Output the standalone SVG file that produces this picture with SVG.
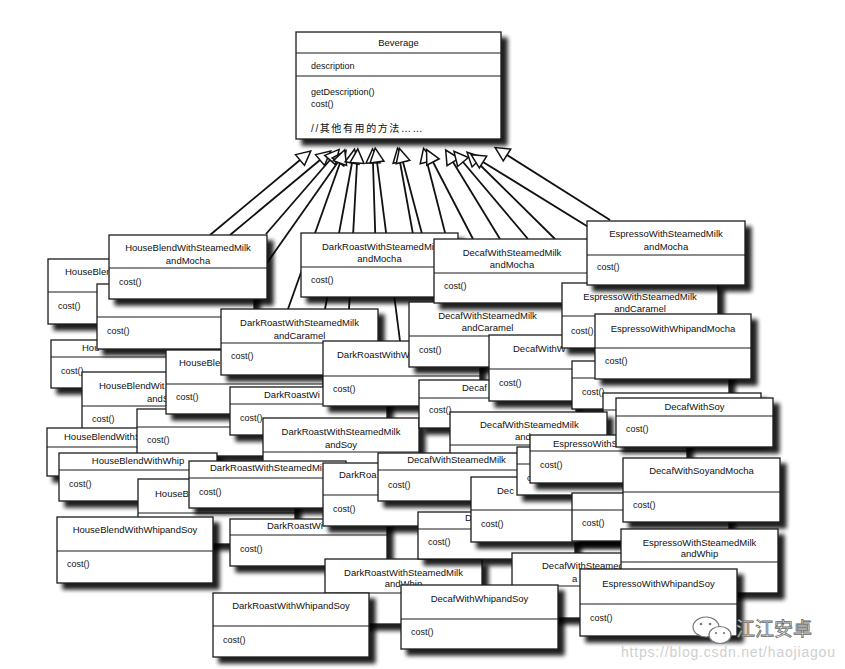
<svg xmlns="http://www.w3.org/2000/svg" width="845" height="669" viewBox="0 0 845 669">
<defs>
<filter id="sh" x="-5%" y="-10%" width="125%" height="140%">
<feGaussianBlur in="SourceAlpha" stdDeviation="2.2"/>
<feOffset dx="6" dy="6" result="o"/>
<feComponentTransfer in="o" result="s"><feFuncA type="linear" slope="0.88"/></feComponentTransfer>
<feMerge><feMergeNode in="s"/><feMergeNode in="SourceGraphic"/></feMerge>
</filter>
<marker id="tri" markerUnits="userSpaceOnUse" markerWidth="18" markerHeight="18" viewBox="-2 -9 18 18" refX="0" refY="0" orient="auto-start-reverse">
<path d="M0,-7 L14,0 L0,7 Z" fill="#fff" stroke="#111" stroke-width="1.5" stroke-linejoin="miter"/>
</marker>
<style>
.b{fill:#fff;stroke:#1a1a1a;stroke-width:1.3;filter:url(#sh)}
.d{stroke:#1a1a1a;stroke-width:1.2}
.t{font-family:"Liberation Sans",Arial,sans-serif;font-size:9.5px;fill:#111;text-anchor:middle}
.ts{font-family:"Liberation Sans",Arial,sans-serif;font-size:9.5px;fill:#111}
.m{font-family:"Liberation Sans",Arial,sans-serif;font-size:9px;fill:#111}
.cn{font-family:"Liberation Sans","Noto Sans CJK SC",sans-serif;font-size:10px;fill:#111;letter-spacing:1.6px}
.c line{stroke:#111;stroke-width:1.8;marker-start:url(#tri)}
</style>
</defs>
<rect width="845" height="669" fill="#fff"/>

<g id="Beverage" transform="translate(296,32)">
<rect class="b" width="205" height="107"/>
<line class="d" x1="0" y1="21" x2="205" y2="21"/>
<line class="d" x1="0" y1="44" x2="205" y2="44"/>
<text class="t" x="102.5" y="13.5">Beverage</text>
<text class="m" x="15" y="37">description</text>
<text class="m" x="15" y="63">getDescription()</text>
<text class="m" x="15" y="75">cost()</text>
<text class="cn" x="15" y="100">//其他有用的方法……</text>
</g>

<g id="connectors" class="c">
<line x1="300" y1="160" x2="210" y2="235"/>
<line x1="320" y1="160" x2="230" y2="235"/>
<line x1="330" y1="160" x2="266" y2="234"/>
<line x1="338" y1="162" x2="262" y2="270"/>
<line x1="340" y1="163" x2="288" y2="309"/>
<line x1="352" y1="163" x2="325" y2="309"/>
<line x1="357" y1="163" x2="349" y2="309"/>
<line x1="373" y1="163" x2="377" y2="290"/>
<line x1="377" y1="162" x2="400" y2="341"/>
<line x1="400" y1="162" x2="423" y2="290"/>
<line x1="403" y1="162" x2="440" y2="302"/>
<line x1="427" y1="162" x2="452" y2="260"/>
<line x1="433" y1="162" x2="473" y2="239"/>
<line x1="453" y1="162" x2="500" y2="239"/>
<line x1="463" y1="162" x2="528" y2="239"/>
<line x1="477" y1="162" x2="555" y2="239"/>
<line x1="483" y1="162" x2="590" y2="228"/>
<line x1="507" y1="155" x2="610" y2="220"/>
</g>

<g id="hb_a" transform="translate(48,259)"><rect class="b" width="157" height="65"/><line class="d" x1="0" y1="33" x2="157" y2="33"/><text class="ts" x="17" y="15.5">HouseBlen</text><text class="m" x="10" y="49.5">cost()</text></g>
<g id="hb_b" transform="translate(51,340)"><rect class="b" width="157" height="48"/><line class="d" x1="0" y1="17" x2="157" y2="17"/><text class="ts" x="31" y="10.5">Hou</text><text class="m" x="10" y="33.5">cost()</text></g>
<g id="hb_c" transform="translate(97,284)"><rect class="b" width="157" height="65"/><line class="d" x1="0" y1="33" x2="157" y2="33"/><text class="m" x="10" y="49.5">cost()</text></g>
<g id="hb_d" transform="translate(82,372)"><rect class="b" width="157" height="65"/><line class="d" x1="0" y1="34" x2="157" y2="34"/><text class="ts" x="17" y="16.5">HouseBlendWit</text><text class="ts" x="65" y="29.5">andS</text><text class="m" x="10" y="49.5">cost()</text></g>
<g id="hb_e" transform="translate(47,428)"><rect class="b" width="157" height="48"/><line class="d" x1="0" y1="19" x2="157" y2="19"/><text class="ts" x="17" y="11.5">HouseBlendWithS</text></g>
<g id="hb_f" transform="translate(137,409)"><rect class="b" width="157" height="47"/><line class="d" x1="0" y1="18" x2="157" y2="18"/><text class="m" x="10" y="33.5">cost()</text></g>
<g id="hb_g" transform="translate(166,350)"><rect class="b" width="157" height="64"/><line class="d" x1="0" y1="34" x2="157" y2="34"/><text class="ts" x="13" y="15.5">HouseBle</text><text class="m" x="10" y="49.5">cost()</text></g>

<g id="HouseBlendWithSteamedMilkandMocha" transform="translate(109,235)"><rect class="b" width="158" height="64"/><line class="d" x1="0" y1="33" x2="158" y2="33"/><text class="t" x="79" y="15.5">HouseBlendWithSteamedMilk</text><text class="t" x="79" y="28.5">andMocha</text><text class="m" x="10" y="49.5">cost()</text></g>
<g id="DarkRoastWithSteamedMilkandMocha" transform="translate(301,233)"><rect class="b" width="157" height="64"/><line class="d" x1="0" y1="34" x2="157" y2="34"/><text class="ts" x="21" y="16.5">DarkRoastWithSteamedMi</text><text class="t" x="78.5" y="28.5">andMocha</text><text class="m" x="10" y="49.5">cost()</text></g>
<g id="DarkRoastWithSteamedMilkandCaramel" transform="translate(221,309)"><rect class="b" width="157" height="66"/><line class="d" x1="0" y1="34" x2="157" y2="34"/><text class="t" x="78.5" y="16.5">DarkRoastWithSteamedMilk</text><text class="t" x="78.5" y="29.5">andCaramel</text><text class="m" x="10" y="49.5">cost()</text></g>
<g id="dr_a" transform="translate(230,387)"><rect class="b" width="157" height="48"/><line class="d" x1="0" y1="17" x2="157" y2="17"/><text class="ts" x="34" y="10.5">DarkRoastWi</text><text class="m" x="10" y="33.5">cost()</text></g>
<g id="dr_b" transform="translate(323,341)"><rect class="b" width="157" height="65"/><line class="d" x1="0" y1="35" x2="157" y2="35"/><text class="ts" x="14" y="16.5">DarkRoastWithW</text><text class="m" x="10" y="50.5">cost()</text></g>
<g id="DarkRoastWithSteamedMilkandSoy" transform="translate(263,418)"><rect class="b" width="156" height="65"/><line class="d" x1="0" y1="34" x2="156" y2="34"/><text class="t" x="78" y="16.5">DarkRoastWithSteamedMilk</text><text class="t" x="78" y="29.5">andSoy</text></g>
<g id="de_a" transform="translate(419,380)"><rect class="b" width="157" height="48"/><line class="d" x1="0" y1="18" x2="157" y2="18"/><text class="ts" x="43" y="10.5">Decaf</text><text class="m" x="10" y="32.5">cost()</text></g>
<g id="DecafWithSteamedMilkandCaramel" transform="translate(409,302)"><rect class="b" width="157" height="65"/><line class="d" x1="0" y1="34" x2="157" y2="34"/><text class="t" x="78.5" y="16.5">DecafWithSteamedMilk</text><text class="t" x="78.5" y="28.5">andCaramel</text><text class="m" x="10" y="50.5">cost()</text></g>
<g id="DecafWithSteamedMilkandMocha" transform="translate(434,239)"><rect class="b" width="156" height="64"/><line class="d" x1="0" y1="34" x2="156" y2="34"/><text class="t" x="78" y="16.5">DecafWithSteamedMilk</text><text class="t" x="78" y="28.5">andMocha</text><text class="m" x="10" y="49.5">cost()</text></g>
<g id="de_b" transform="translate(489,335)"><rect class="b" width="157" height="66"/><line class="d" x1="0" y1="34" x2="157" y2="34"/><text class="ts" x="24" y="16.5">DecafWithW</text><text class="m" x="10" y="50.5">cost()</text></g>
<g id="EspressoWithSteamedMilkandCaramel" transform="translate(562,283)"><rect class="b" width="156" height="65"/><line class="d" x1="0" y1="33" x2="156" y2="33"/><text class="t" x="78" y="16.5">EspressoWithSteamedMilk</text><text class="t" x="78" y="28.5">andCaramel</text><text class="m" x="9" y="50.5">cost()</text></g>
<g id="EspressoWithSteamedMilkandMocha" transform="translate(587,221)"><rect class="b" width="158" height="64"/><line class="d" x1="0" y1="34" x2="158" y2="34"/><text class="t" x="79" y="15.5">EspressoWithSteamedMilk</text><text class="t" x="79" y="28.5">andMocha</text><text class="m" x="10" y="48.5">cost()</text></g>
<g id="es_a" transform="translate(572,361)"><rect class="b" width="157" height="48"/><line class="d" x1="0" y1="17" x2="157" y2="17"/><text class="m" x="10" y="33.5">cost()</text></g>
<g id="EspressoWithWhipandMocha" transform="translate(595,314)"><rect class="b" width="156" height="65"/><line class="d" x1="0" y1="34" x2="156" y2="34"/><text class="t" x="78" y="17.5">EspressoWithWhipandMocha</text><text class="m" x="10" y="49.5">cost()</text></g>
<g id="de_c" transform="translate(603,393)"><rect class="b" width="158" height="48"/><line class="d" x1="0" y1="17" x2="158" y2="17"/></g>
<g id="de_d" transform="translate(450,412)"><rect class="b" width="157" height="65"/><line class="d" x1="0" y1="33" x2="157" y2="33"/><text class="ts" x="30" y="15.5">DecafWithSteamedMilk</text><text class="ts" x="65" y="27.5">and</text></g>

<g id="HouseBlendWithWhip" transform="translate(59,453)"><rect class="b" width="158" height="48"/><line class="d" x1="0" y1="17" x2="158" y2="17"/><text class="t" x="79" y="10.5">HouseBlendWithWhip</text><text class="m" x="10" y="33.5">cost()</text></g>
<g id="hb_h" transform="translate(138,479)"><rect class="b" width="157" height="65"/><line class="d" x1="0" y1="34" x2="157" y2="34"/><text class="ts" x="17" y="17.5">HouseB</text></g>
<g id="dr_c" transform="translate(189,461)"><rect class="b" width="157" height="47"/><line class="d" x1="0" y1="17" x2="157" y2="17"/><text class="ts" x="21" y="9.5">DarkRoastWithSteamedMi</text><text class="m" x="10" y="33.5">cost()</text></g>
<g id="HouseBlendWithWhipandSoy" transform="translate(57,517)"><rect class="b" width="156" height="66"/><line class="d" x1="0" y1="34" x2="156" y2="34"/><text class="t" x="78" y="15.5">HouseBlendWithWhipandSoy</text><text class="m" x="10" y="49.5">cost()</text></g>
<g id="dr_d" transform="translate(230,519)"><rect class="b" width="157" height="47"/><line class="d" x1="0" y1="16" x2="157" y2="16"/><text class="ts" x="37" y="9.5">DarkRoastWi</text><text class="m" x="10" y="32.5">cost()</text></g>
<g id="dr_e" transform="translate(323,463)"><rect class="b" width="157" height="63"/><line class="d" x1="0" y1="32" x2="157" y2="32"/><text class="ts" x="16" y="14.5">DarkRoa</text><text class="m" x="10" y="48.5">cost()</text></g>
<g id="DecafWithSteamedMilk" transform="translate(378,453)"><rect class="b" width="157" height="48"/><line class="d" x1="0" y1="17" x2="157" y2="17"/><text class="t" x="78.5" y="9.5">DecafWithSteamedMilk</text><text class="m" x="10" y="34.5">cost()</text></g>
<g id="DarkRoastWithSteamedMilkandWhip" transform="translate(325,559)"><rect class="b" width="157" height="65"/><line class="d" x1="0" y1="34" x2="157" y2="34"/><text class="t" x="78.5" y="16.5">DarkRoastWithSteamedMilk</text><text class="t" x="78.5" y="27.5">andWhip</text></g>
<g id="de_e" transform="translate(418,512)"><rect class="b" width="157" height="47"/><line class="d" x1="0" y1="17" x2="157" y2="17"/><text class="ts" x="47" y="8.5">D</text><text class="m" x="10" y="32.5">cost()</text></g>
<g id="de_f" transform="translate(471,477)"><rect class="b" width="157" height="65"/><line class="d" x1="0" y1="33" x2="157" y2="33"/><text class="ts" x="26" y="16.5">Dec</text><text class="m" x="10" y="49.5">cost()</text></g>
<g id="es_b" transform="translate(517,447)"><rect class="b" width="157" height="48"/><line class="d" x1="0" y1="17" x2="157" y2="17"/><text class="m" x="10" y="33.5">cost()</text></g>
<g id="es_c" transform="translate(530,435)"><rect class="b" width="157" height="48"/><line class="d" x1="0" y1="16" x2="157" y2="16"/><text class="ts" x="23" y="11.5">EspressoWithS</text><text class="m" x="10" y="32.5">cost()</text></g>
<g id="DecafWithSoy" transform="translate(616,398)"><rect class="b" width="157" height="49"/><line class="d" x1="0" y1="18" x2="157" y2="18"/><text class="t" x="78.5" y="11.5">DecafWithSoy</text><text class="m" x="10" y="33.5">cost()</text></g>
<g id="es_d" transform="translate(572,493)"><rect class="b" width="157" height="48"/><line class="d" x1="0" y1="17" x2="157" y2="17"/><text class="m" x="10" y="32.5">cost()</text></g>
<g id="DecafWithSoyandMocha" transform="translate(623,458)"><rect class="b" width="157" height="64"/><line class="d" x1="0" y1="34" x2="157" y2="34"/><text class="t" x="78.5" y="15.5">DecafWithSoyandMocha</text><text class="m" x="10" y="49.5">cost()</text></g>
<g id="de_g" transform="translate(512,553)"><rect class="b" width="157" height="65"/><line class="d" x1="0" y1="33" x2="157" y2="33"/><text class="ts" x="30" y="15.5">DecafWithSteamed</text><text class="ts" x="60" y="28.5">a</text></g>
<g id="EspressoWithSteamedMilkandWhip" transform="translate(621,529)"><rect class="b" width="157" height="64"/><line class="d" x1="0" y1="33" x2="157" y2="33"/><text class="t" x="78.5" y="16.5">EspressoWithSteamedMilk</text><text class="t" x="78.5" y="27.5">andWhip</text></g>
<g id="DarkRoastWithWhipandSoy" transform="translate(213,593)"><rect class="b" width="156" height="64"/><line class="d" x1="0" y1="33" x2="156" y2="33"/><text class="t" x="78" y="15.5">DarkRoastWithWhipandSoy</text><text class="m" x="10" y="49.5">cost()</text></g>
<g id="DecafWithWhipandSoy" transform="translate(401,585)"><rect class="b" width="157" height="64"/><line class="d" x1="0" y1="34" x2="157" y2="34"/><text class="t" x="78.5" y="16.5">DecafWithWhipandSoy</text><text class="m" x="10" y="49.5">cost()</text></g>
<g id="EspressoWithWhipandSoy" transform="translate(580,569)"><rect class="b" width="157" height="67"/><line class="d" x1="0" y1="35" x2="157" y2="35"/><text class="t" x="78.5" y="17.5">EspressoWithWhipandSoy</text><text class="m" x="10" y="51.5">cost()</text></g>

<g id="watermark">
<ellipse cx="706" cy="627" rx="13" ry="10" fill="#fff" stroke="#777" stroke-width="1.2"/>
<ellipse cx="720" cy="635" rx="11" ry="8.5" fill="#fff" stroke="#777" stroke-width="1.2"/>
<circle cx="701" cy="624" r="1.3" fill="#777"/><circle cx="710" cy="624" r="1.3" fill="#777"/>
<circle cx="716" cy="633" r="1.1" fill="#777"/><circle cx="724" cy="633" r="1.1" fill="#777"/>
<text x="736" y="636" font-family="'Noto Sans CJK SC',sans-serif" font-size="19" fill="#fff" stroke="#666" stroke-width="0.8">江江安卓</text>
<text x="621" y="657" font-family="'Liberation Sans',Arial,sans-serif" font-size="14" fill="#cfcfcf" textLength="214">https://blog.csdn.net/haojiagou</text>
</g>
</svg>
